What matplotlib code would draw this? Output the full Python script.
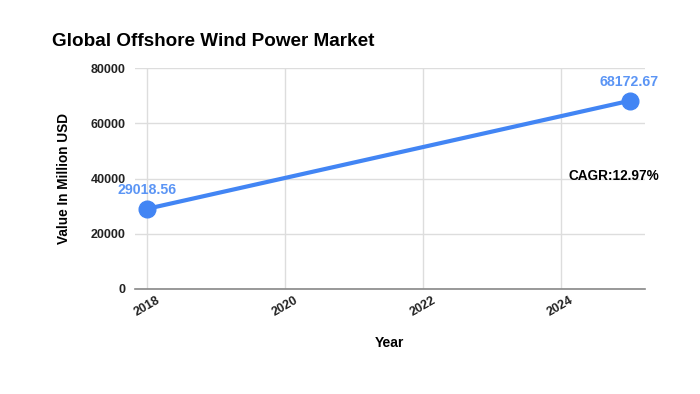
import matplotlib
matplotlib.use('Agg')
import matplotlib.pyplot as plt

years = [2018, 2025]
values = [29018.56, 68172.67]
point_labels = ['29018.56', '68172.67']
x_ticks = [2018, 2020, 2022, 2024]
y_ticks = [0, 20000, 40000, 60000, 80000]

plt.rcParams['font.family'] = ['Liberation Sans', 'DejaVu Sans']

fig = plt.figure(figsize=(7, 3.94), dpi=100)
fig.patch.set_facecolor('white')
ax = fig.add_axes([0.193, 0.2665, 0.728, 0.5605])

blue = '#4285F4'
ax.plot(years, values, color=blue, lw=3, marker='o', markersize=12, zorder=3, clip_on=False)
for x, y, t in zip(years, values, point_labels):
    ax.text(x, y + 4300, t, ha='center', va='bottom', color='#5B95F5',
            fontsize=10.2, fontweight='bold')

ax.set_xlim(2017.83, 2025.22)
ax.set_ylim(0, 80000)
ax.set_xticks(x_ticks)
ax.set_yticks(y_ticks)
ax.set_xticklabels([str(t) for t in x_ticks], rotation=30, fontsize=9, fontweight='bold',
                   color='#222222')
ax.set_yticklabels([str(t) for t in y_ticks], fontsize=9, fontweight='bold', color='#222222')
ax.tick_params(length=0, pad=7)
ax.tick_params(axis='x', pad=4)
ax.grid(True, color='#dddddd', lw=1)
ax.set_axisbelow(True)
for s in ['top', 'right', 'left']:
    ax.spines[s].set_visible(False)
ax.spines['bottom'].set_color('#888888')
ax.spines['bottom'].set_linewidth(1.2)

ax.set_ylabel('Value In Million USD', fontsize=9.8, fontweight='bold', labelpad=14)
ax.set_xlabel('Year', fontsize=10, fontweight='bold', labelpad=12)

fig.text(52 / 700, 1 - 42 / 394, 'Global Offshore Wind Power Market', fontsize=13.6,
         fontweight='bold', va='center', ha='left')
ax.text(2024.12, 41000, 'CAGR:12.97%', ha='left', va='center', fontsize=9.8,
        fontweight='bold', color='black', clip_on=False)

fig.savefig('out.png', dpi=100, facecolor='white')
